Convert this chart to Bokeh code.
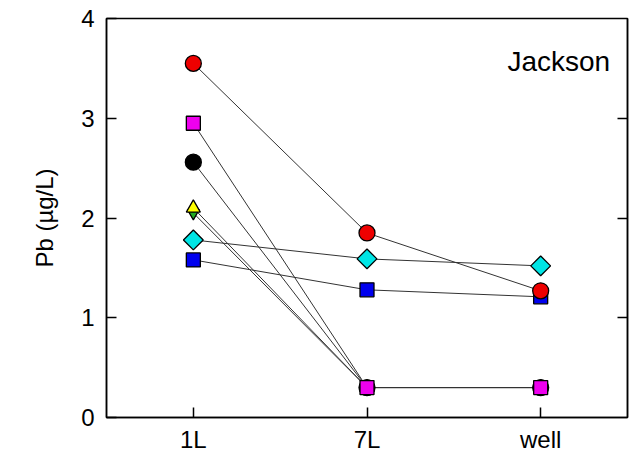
import math
from bokeh.plotting import figure
from bokeh.models import LinearAxis, FixedTicker, Label
from bokeh.embed import file_html
from bokeh.resources import INLINE

categories = ["1L", "7L", "well"]
red_circle = [3.55, 1.85, 1.27]
magenta_square = [2.95, 0.30, 0.30]
black_circle = [2.56, 0.30, 0.30]
yellow_triangle = [2.10, 0.30, 0.30]
green_triangle = [2.05, 0.30, 0.30]
cyan_diamond = [1.78, 1.59, 1.52]
blue_square = [1.58, 1.28, 1.21]

FONT = "Liberation Sans"
x = list(range(len(categories)))

p = figure(width=633, height=457, output_backend="svg", toolbar_location=None,
           x_range=(-0.5, 2.5), y_range=(0, 4),
           min_border_left=106, min_border_right=6, min_border_top=18, min_border_bottom=40,
           y_axis_label="Pb (µg/L)")
p.grid.visible = False
p.outline_line_color = "black"
p.outline_line_width = 1.5
p.background_fill_color = "white"
p.border_fill_color = "white"

# (values, marker, fill, size, angle)
series = [
    (green_triangle, "inverted_triangle", "#22aa22", 12, 0),
    (black_circle, "circle", "black", 16, 0),
    (yellow_triangle, "triangle", "#ffff00", 14, 0),
    (blue_square, "square", "#0000ee", 14, 0),
    (cyan_diamond, "square", "#00e5e5", 14, math.pi / 4),
    (red_circle, "circle", "#ee0000", 16, 0),
    (magenta_square, "square", "#ee00ee", 14, 0),
]
for vals, *_ in series:
    p.line(x, vals, line_color="#333333", line_width=1)
for vals, marker, color, size, ang in series:
    p.scatter(x, vals, marker=marker, size=size, angle=ang, fill_color=color,
              line_color="black", line_width=1.3)

for ax in (p.xaxis[0], p.yaxis[0]):
    ax.axis_line_width = 1.5
    ax.major_tick_line_width = 1.5
    ax.major_tick_in = 10
    ax.major_tick_out = 0
    ax.minor_tick_line_color = None
    ax.major_label_text_font = FONT
    ax.major_label_text_font_size = "24px"
    ax.major_label_text_color = "black"

p.xaxis[0].ticker = FixedTicker(ticks=x)
p.xaxis[0].major_label_overrides = {i: c for i, c in enumerate(categories)}
p.xaxis[0].major_label_standoff = 8
p.yaxis[0].ticker = FixedTicker(ticks=[0, 1, 2, 3, 4])
p.yaxis[0].major_label_standoff = 12
p.yaxis[0].axis_label_text_font = FONT
p.yaxis[0].axis_label_text_font_size = "24px"
p.yaxis[0].axis_label_text_font_style = "normal"
p.yaxis[0].axis_label_text_color = "black"
p.yaxis[0].axis_label_standoff = 20

right = LinearAxis(ticker=FixedTicker(ticks=[1, 2, 3]))
right.major_tick_in = 10
right.major_tick_out = 0
right.major_tick_line_width = 1.5
right.axis_line_width = 1.5
right.minor_tick_line_color = None
right.major_label_text_font_size = "1px"
right.major_label_text_alpha = 0
right.major_label_standoff = 0
p.add_layout(right, "right")

p.add_layout(Label(x=2.4, y=3.57, text="Jackson", text_align="right",
                   text_baseline="alphabetic", text_font=FONT,
                   text_font_size="28px", text_color="black"))

open("out.html", "w").write(file_html(p, INLINE))
